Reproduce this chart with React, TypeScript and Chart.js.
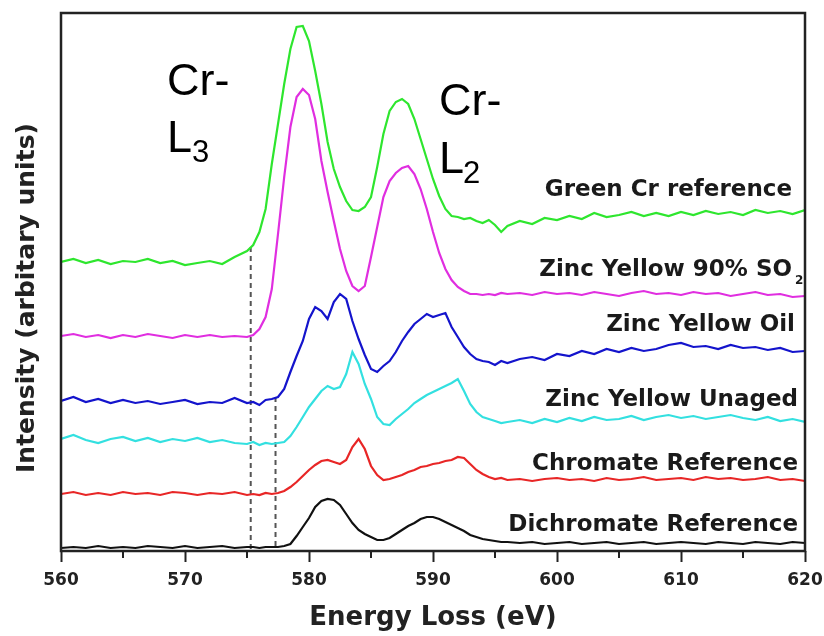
import React, { useEffect, useRef } from "react";
import { Chart, registerables } from "chart.js";

Chart.register(...registerables);

// Energy loss grid (eV)
const energy = [
  560, 561, 562, 563, 564, 565, 566, 567, 568, 569, 570, 571, 572, 573, 574, 575,
  575.5, 576, 576.5, 577, 577.5, 578, 578.5, 579, 579.5, 580, 580.5, 581, 581.5, 582, 582.5,
  583, 583.5, 584, 584.5, 585, 585.5, 586, 586.5, 587, 587.5, 588, 588.5, 589, 589.5, 590,
  590.5, 591, 591.5, 592, 592.5, 593, 593.5, 594, 594.5, 595, 595.5, 596,
  597, 598, 599, 600, 601, 602, 603, 604, 605, 606, 607, 608, 609, 610, 611, 612, 613, 614,
  615, 616, 617, 618, 619, 620,
];

// Intensities (arbitrary units, stacked with offsets)
const greenCr = [
  289, 292, 288, 291, 287, 290, 289, 292, 288, 290, 286, 288, 290, 287, 294, 300,
  306, 319, 342, 387, 427, 467, 502, 524, 525, 510, 480, 447, 409, 382, 364, 350, 341, 340, 344,
  354, 384, 417, 440, 449, 452, 447, 432, 412, 392, 372, 355, 342, 335, 334, 332, 333, 330, 328,
  331, 326, 319, 325,
  330, 327, 333, 331, 335, 332, 338, 334, 336, 339, 335, 338, 335, 339, 336, 340, 337, 339, 336,
  341, 338, 340, 337, 341,
];
const zincSO2 = [
  215, 217, 214, 216, 213, 216, 214, 217, 215, 213, 216, 214, 216, 214, 215, 214,
  216, 222, 234, 262, 317, 374, 424, 454, 462, 456, 432, 390, 359, 330, 302, 280, 265, 260, 265,
  294, 324, 354, 370, 378, 383, 385, 377, 362, 342, 319, 298, 282, 271, 264, 260, 257, 257, 256,
  257, 256, 258, 257,
  258, 256, 259, 257, 258, 256, 259, 257, 255, 258, 260, 257, 258, 256, 259, 257, 258, 255, 257,
  259, 256, 257, 254, 255,
];
const zincOil = [
  150, 154, 149, 152, 148, 151, 148, 150, 147, 149, 151, 147, 149, 148, 153, 148,
  149, 146, 151, 152, 154, 162, 179, 195, 210, 232, 244, 240, 232, 249, 257, 252, 230, 212, 196,
  182, 179, 185, 190, 199, 210, 219, 227, 232, 237, 234, 236, 238, 224, 214, 204, 197, 192, 190,
  189, 186, 190, 188,
  192, 194, 191, 197, 195, 200, 197, 202, 199, 203, 200, 202, 206, 208, 204, 205, 202, 206, 203,
  204, 201, 203, 199, 200,
];
const zincUnaged = [
  112, 116, 111, 108, 112, 114, 110, 113, 109, 112, 110, 113, 109, 111, 108, 107,
  109, 106, 108, 107, 108, 109, 115, 124, 134, 144, 152, 160, 165, 162, 164, 177, 199, 187, 167,
  152, 134, 127, 126, 132, 137, 142, 148, 152, 156, 159, 162, 165, 168, 172, 160, 147, 139, 134,
  132, 130, 128, 129,
  131, 128, 132, 129, 133, 130, 134, 131, 132, 135, 131, 134, 136, 133, 135, 132, 134, 136, 133,
  131, 134, 130, 132, 129,
];
const chromateRef = [
  57, 59, 56, 58, 56, 59, 57, 58, 56, 59, 58, 56, 58, 57, 59, 56,
  57, 56, 58, 57, 58, 60, 64, 69, 75, 81, 86, 90, 91, 89, 87, 91, 104, 112, 102,
  85, 76, 71, 72, 74, 76, 79, 81, 84, 85, 87, 88, 90, 91, 94, 93, 87, 81, 77,
  74, 72, 73, 71,
  72, 70, 72, 73, 71, 72, 70, 73, 71, 72, 74, 71, 72, 73, 71, 74, 72, 73, 71,
  72, 74, 71, 72, 70,
];
const dichromateRef = [
  3, 4, 3, 5, 3, 4, 3, 5, 4, 3, 5, 3, 4, 5, 3, 4,
  4, 3, 4, 4, 4, 5, 7, 15, 24, 33, 44, 50, 52, 51, 46, 37, 28, 21, 17,
  14, 11, 11, 13, 17, 21, 25, 28, 32, 34, 34, 32, 29, 26, 23, 20, 16, 14, 12,
  11, 10, 9, 9,
  8, 9, 7, 8, 9, 7, 8, 9, 7, 8, 9, 7, 8, 9, 8, 7, 9, 8, 7,
  9, 8, 7, 9, 8,
];

const seriesNames = [
  "Green Cr reference",
  "Zinc Yellow 90% SO",
  "Zinc Yellow Oil",
  "Zinc Yellow Unaged",
  "Chromate Reference",
  "Dichromate Reference",
];
const seriesValues = [greenCr, zincSO2, zincOil, zincUnaged, chromateRef, dichromateRef];
const seriesColors = ["#2ee62e", "#e02ee0", "#1414cc", "#33e0e0", "#e82626", "#111111"];

// Onset markers (dashed lines): energy and top intensity
const onsetEnergy = [575.3, 577.3];
const onsetTop = [304, 154];

const xTicks = [560, 570, 580, 590, 600, 610, 620];
const xMinorTicks = [565, 575, 585, 595, 605, 615];

// label placement (pixels): right edge and baseline
const labelPos = [
  { right: 792, base: 196 },
  { right: 792, base: 276 },
  { right: 795, base: 331 },
  { right: 798, base: 406 },
  { right: 798, base: 470 },
  { right: 798, base: 531 },
];

const BOLD = "bold 23px 'DejaVu Sans'";

const decorPlugin = {
  id: "decor",
  beforeDatasetsDraw(chart: any) {
    const { ctx, scales } = chart;
    const x = scales.x;
    const y = scales.y;
    ctx.save();
    ctx.strokeStyle = "#555";
    ctx.lineWidth = 2;
    ctx.setLineDash([5, 4]);
    onsetEnergy.forEach((e, i) => {
      const px = x.getPixelForValue(e);
      ctx.beginPath();
      ctx.moveTo(px, y.getPixelForValue(onsetTop[i]));
      ctx.lineTo(px, y.getPixelForValue(0));
      ctx.stroke();
    });
    ctx.restore();
  },
  afterDraw(chart: any) {
    const { ctx, chartArea, scales } = chart;
    const x = scales.x;
    ctx.save();
    // frame
    ctx.strokeStyle = "#222";
    ctx.lineWidth = 2.5;
    ctx.strokeRect(chartArea.left, chartArea.top, chartArea.right - chartArea.left, chartArea.bottom - chartArea.top);
    // minor ticks
    ctx.lineWidth = 2;
    xMinorTicks.forEach((e) => {
      const px = x.getPixelForValue(e);
      ctx.beginPath();
      ctx.moveTo(px, chartArea.bottom);
      ctx.lineTo(px, chartArea.bottom + 7);
      ctx.stroke();
    });
    // y title
    ctx.fillStyle = "#222";
    ctx.font = "bold 25px 'DejaVu Sans'";
    ctx.textAlign = "center";
    ctx.textBaseline = "middle";
    ctx.translate(27, 298);
    ctx.rotate(-Math.PI / 2);
    ctx.fillText("Intensity (arbitary units)", 0, 0);
    ctx.restore();

    ctx.save();
    ctx.fillStyle = "#1a1a1a";
    ctx.font = BOLD;
    ctx.textAlign = "right";
    ctx.textBaseline = "alphabetic";
    seriesNames.forEach((n, i) => {
      ctx.fillText(n, labelPos[i].right, labelPos[i].base);
    });
    ctx.textAlign = "left";
    ctx.font = "bold 12px 'DejaVu Sans'";
    ctx.fillText("2", 795, 284);

    // Cr-L annotations
    ctx.fillStyle = "#000";
    ctx.font = "45px 'Liberation Sans'";
    ctx.fillText("Cr-", 167, 95);
    ctx.fillText("L", 167, 152);
    ctx.fillText("Cr-", 439, 115);
    ctx.fillText("L", 439, 173);
    ctx.font = "31px 'Liberation Sans'";
    ctx.fillText("3", 192, 162);
    ctx.fillText("2", 463, 183);
    ctx.restore();
  },
};

export default function App() {
  const ref = useRef<HTMLCanvasElement | null>(null);
  useEffect(() => {
    document.body.style.margin = "0";
    if (!ref.current) return;
    const chart = new Chart(ref.current, {
      type: "line",
      data: {
        datasets: seriesValues.map((vals, i) => ({
          label: seriesNames[i],
          data: energy.map((e, j) => ({ x: e, y: vals[j] })),
          borderColor: seriesColors[i],
          borderWidth: 2.2,
          pointRadius: 0,
          tension: 0,
          fill: false,
        })),
      },
      options: {
        responsive: false,
        animation: false,
        events: [],
        layout: { padding: { left: 61, right: 19, top: 13, bottom: 0 } },
        plugins: { legend: { display: false }, tooltip: { enabled: false } },
        scales: {
          x: {
            type: "linear",
            min: 560,
            max: 620,
            afterFit: (s: any) => {
              s.height = 85;
              s.paddingLeft = 0;
              s.paddingRight = 0;
            },
            afterBuildTicks: (s: any) => {
              s.ticks = xTicks.map((v) => ({ value: v }));
            },
            ticks: {
              autoSkip: false,
              maxRotation: 0,
              padding: 8,
              color: "#222",
              font: { family: "'DejaVu Sans'", size: 17, weight: "bold" },
              callback: (v: any) => String(v),
            },
            grid: {
              drawOnChartArea: false,
              drawTicks: true,
              tickLength: 11,
              tickWidth: 2,
              tickColor: "#222",
            },
            border: { display: false },
            title: {
              display: true,
              text: "Energy Loss (eV)",
              color: "#222",
              font: { family: "'DejaVu Sans'", size: 26, weight: "bold" },
              padding: { top: 0, bottom: 2 },
            },
          },
          y: {
            display: false,
            min: 0,
            max: 538,
          },
        },
      },
      plugins: [decorPlugin],
    });
    return () => chart.destroy();
  }, []);
  return (
    <div style={{ width: 824, height: 636 }}>
      <canvas ref={ref} width={824} height={636} style={{ display: "block", width: 824, height: 636 }} />
    </div>
  );
}
